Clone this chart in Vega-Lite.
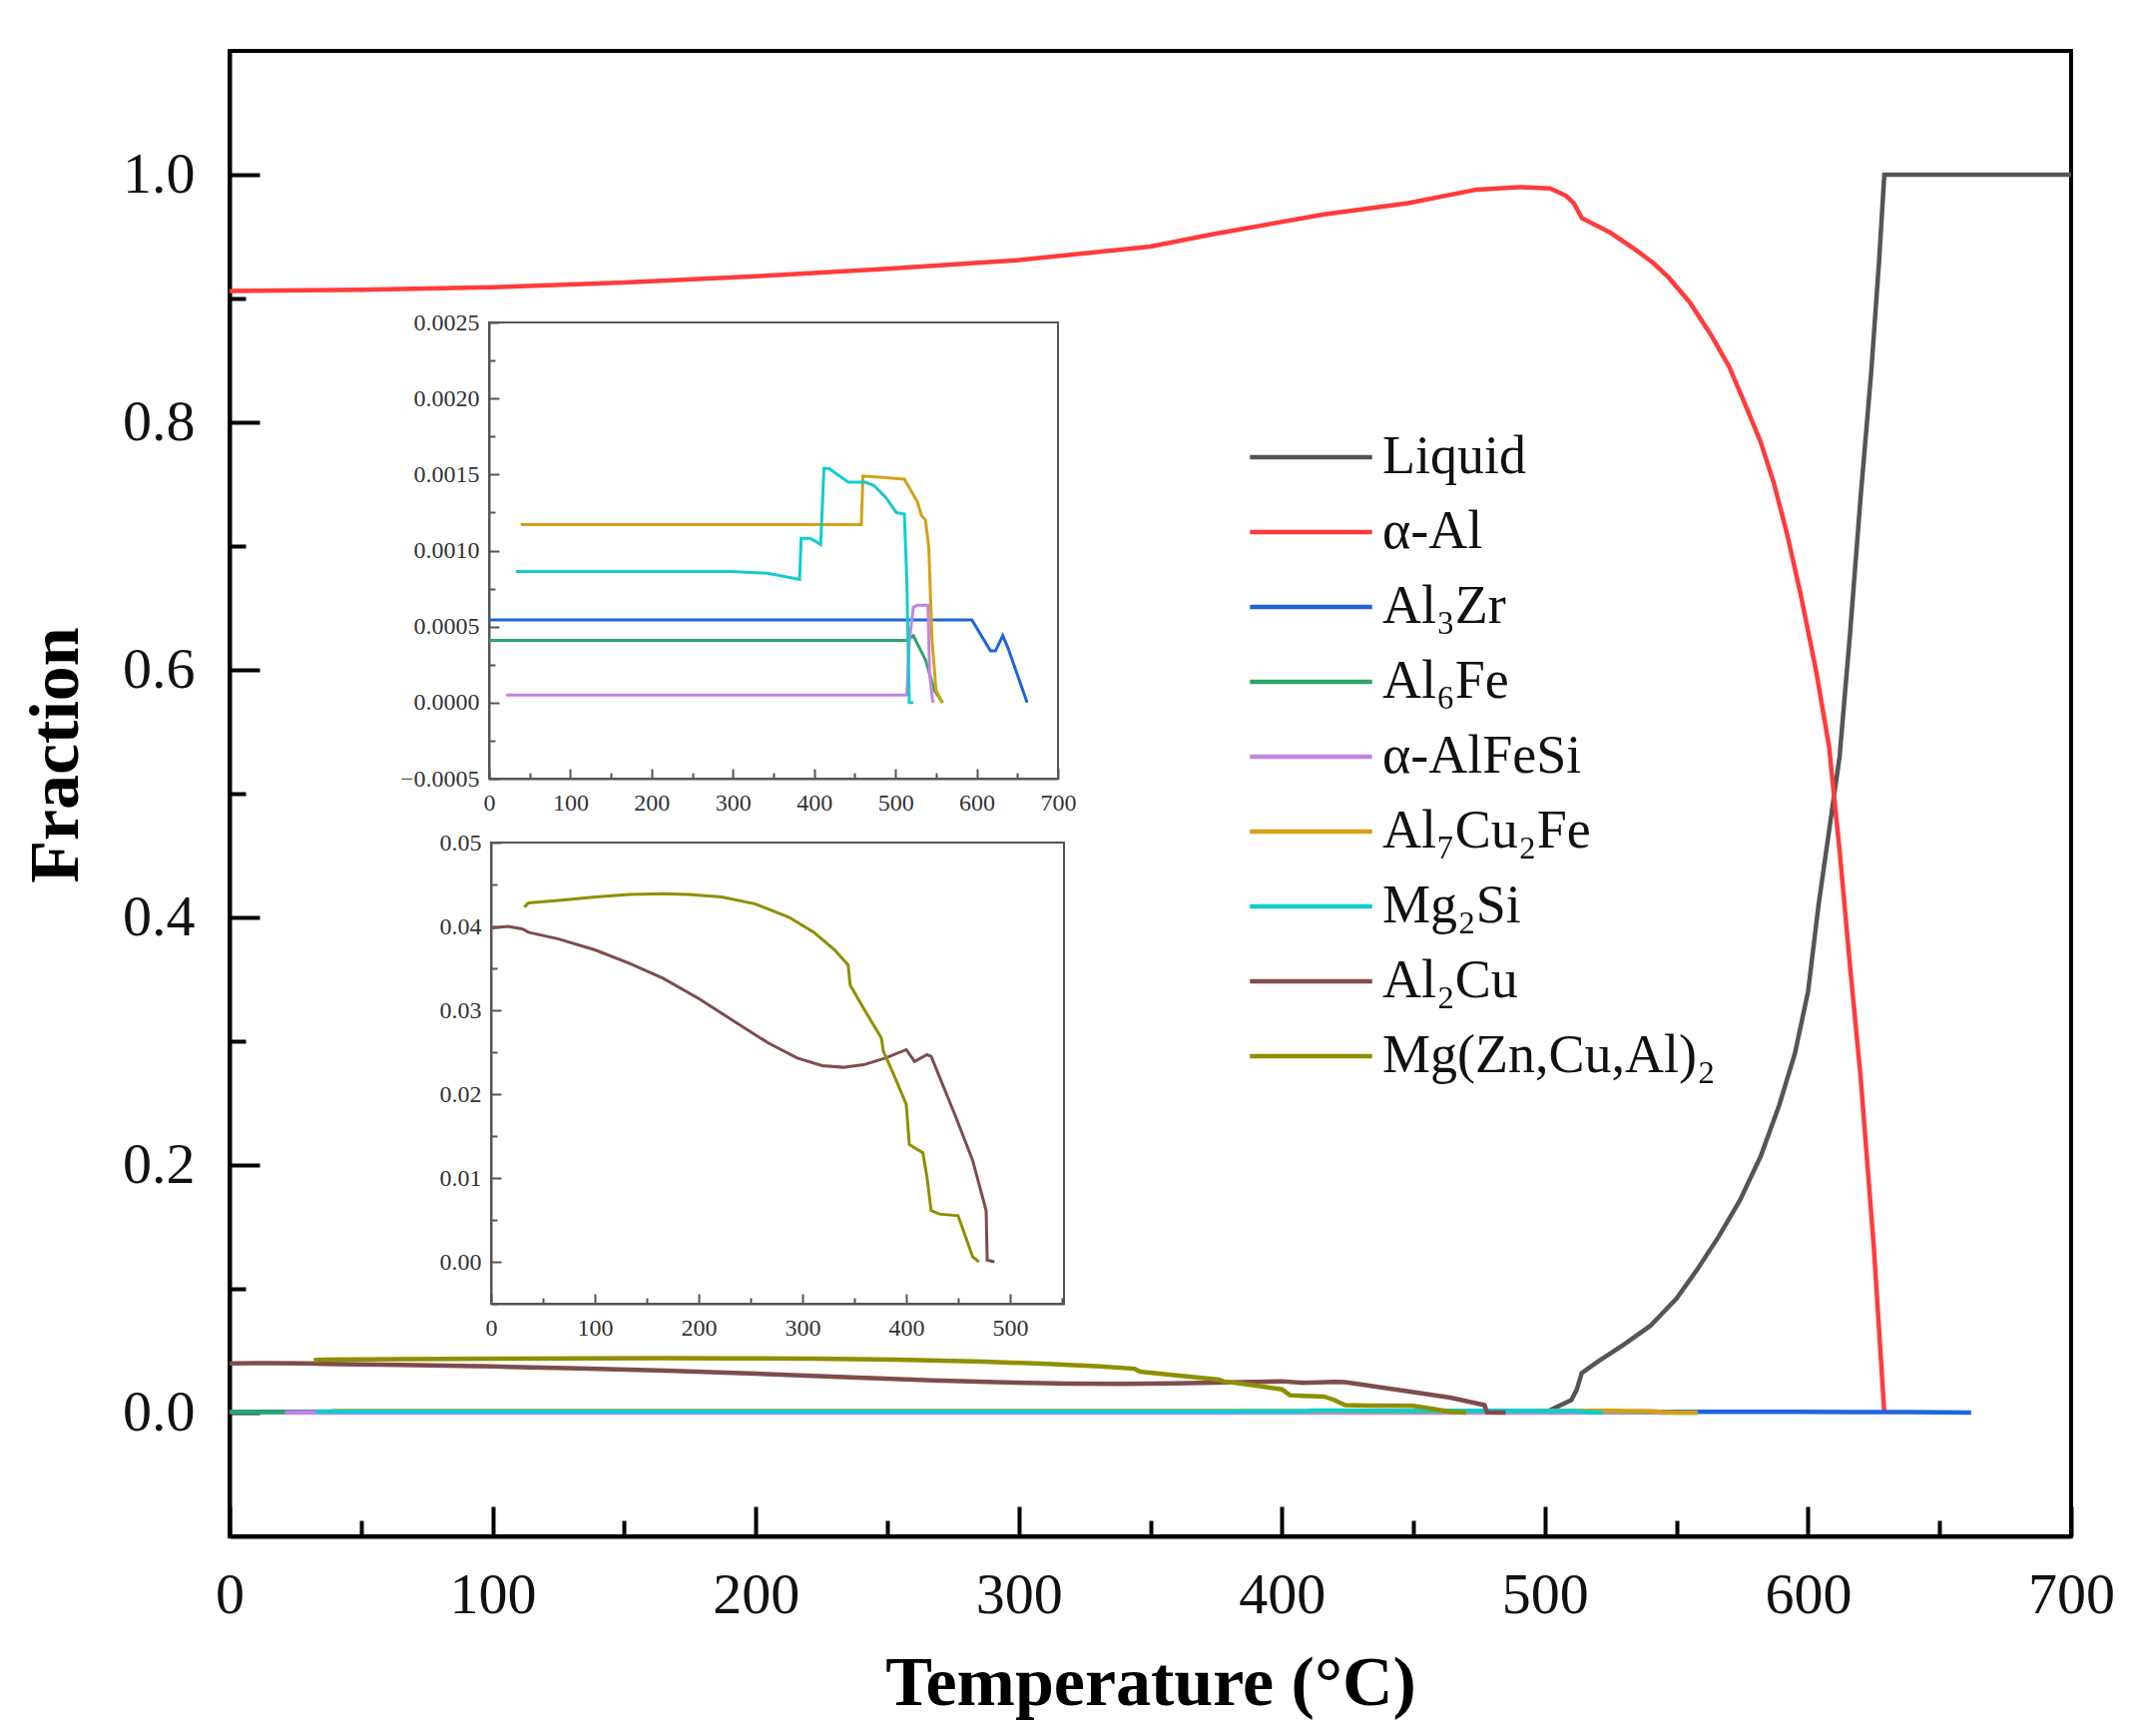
{
  "$schema": "https://vega.github.io/schema/vega-lite/v6.json",
  "width": 1845,
  "height": 1488,
  "autosize": "none",
  "padding": {"left": 230, "top": 51, "right": 60, "bottom": 200},
  "background": "white",
  "datasets": {
    "phases": [
      {"p": "Liquid", "T": 500, "f": 0},
      {"p": "Liquid", "T": 504, "f": 0.004},
      {"p": "Liquid", "T": 510, "f": 0.01},
      {"p": "Liquid", "T": 512, "f": 0.018},
      {"p": "Liquid", "T": 514, "f": 0.032},
      {"p": "Liquid", "T": 520, "f": 0.041},
      {"p": "Liquid", "T": 530, "f": 0.055},
      {"p": "Liquid", "T": 540, "f": 0.07},
      {"p": "Liquid", "T": 550, "f": 0.092},
      {"p": "Liquid", "T": 558, "f": 0.116},
      {"p": "Liquid", "T": 566, "f": 0.142},
      {"p": "Liquid", "T": 574, "f": 0.171},
      {"p": "Liquid", "T": 582, "f": 0.207},
      {"p": "Liquid", "T": 589, "f": 0.248},
      {"p": "Liquid", "T": 595, "f": 0.29},
      {"p": "Liquid", "T": 600, "f": 0.34},
      {"p": "Liquid", "T": 604, "f": 0.41},
      {"p": "Liquid", "T": 608, "f": 0.47},
      {"p": "Liquid", "T": 612, "f": 0.53},
      {"p": "Liquid", "T": 616, "f": 0.63},
      {"p": "Liquid", "T": 620, "f": 0.74},
      {"p": "Liquid", "T": 624, "f": 0.84},
      {"p": "Liquid", "T": 627, "f": 0.93},
      {"p": "Liquid", "T": 629, "f": 1.0},
      {"p": "Liquid", "T": 640, "f": 1.0},
      {"p": "Liquid", "T": 700, "f": 1.0},
      {"p": "α-Al", "T": 0, "f": 0.906},
      {"p": "α-Al", "T": 50, "f": 0.907},
      {"p": "α-Al", "T": 100, "f": 0.909},
      {"p": "α-Al", "T": 150, "f": 0.913},
      {"p": "α-Al", "T": 200, "f": 0.918},
      {"p": "α-Al", "T": 250, "f": 0.924},
      {"p": "α-Al", "T": 300, "f": 0.931},
      {"p": "α-Al", "T": 350, "f": 0.942},
      {"p": "α-Al", "T": 374, "f": 0.952},
      {"p": "α-Al", "T": 416, "f": 0.968},
      {"p": "α-Al", "T": 448, "f": 0.977},
      {"p": "α-Al", "T": 474, "f": 0.988},
      {"p": "α-Al", "T": 490, "f": 0.99},
      {"p": "α-Al", "T": 502, "f": 0.989},
      {"p": "α-Al", "T": 508, "f": 0.983},
      {"p": "α-Al", "T": 511, "f": 0.977},
      {"p": "α-Al", "T": 514, "f": 0.965},
      {"p": "α-Al", "T": 525, "f": 0.953},
      {"p": "α-Al", "T": 534, "f": 0.94},
      {"p": "α-Al", "T": 541, "f": 0.929},
      {"p": "α-Al", "T": 547, "f": 0.917},
      {"p": "α-Al", "T": 555, "f": 0.897},
      {"p": "α-Al", "T": 563, "f": 0.871},
      {"p": "α-Al", "T": 570, "f": 0.845},
      {"p": "α-Al", "T": 576, "f": 0.815},
      {"p": "α-Al", "T": 582, "f": 0.784},
      {"p": "α-Al", "T": 587, "f": 0.751},
      {"p": "α-Al", "T": 592, "f": 0.71},
      {"p": "α-Al", "T": 597, "f": 0.663},
      {"p": "α-Al", "T": 603, "f": 0.6},
      {"p": "α-Al", "T": 608, "f": 0.538},
      {"p": "α-Al", "T": 612, "f": 0.454},
      {"p": "α-Al", "T": 616, "f": 0.36},
      {"p": "α-Al", "T": 620, "f": 0.271},
      {"p": "α-Al", "T": 625, "f": 0.134},
      {"p": "α-Al", "T": 629, "f": 0.0},
      {"p": "Al₃Zr", "T": 0, "f": 0.000544},
      {"p": "Al₃Zr", "T": 594, "f": 0.000544},
      {"p": "Al₃Zr", "T": 617, "f": 0.00034},
      {"p": "Al₃Zr", "T": 623, "f": 0.00034},
      {"p": "Al₃Zr", "T": 632, "f": 0.00044},
      {"p": "Al₃Zr", "T": 638, "f": 0.000366},
      {"p": "Al₃Zr", "T": 662, "f": 0},
      {"p": "Al₆Fe", "T": 0, "f": 0.00041},
      {"p": "Al₆Fe", "T": 514, "f": 0.00041},
      {"p": "Al₆Fe", "T": 522, "f": 0.00044},
      {"p": "Al₆Fe", "T": 537, "f": 0.00028},
      {"p": "Al₆Fe", "T": 548, "f": 0.00008},
      {"p": "Al₆Fe", "T": 558, "f": 0},
      {"p": "α-AlFeSi", "T": 21, "f": 0.00005},
      {"p": "α-AlFeSi", "T": 514, "f": 0.00005},
      {"p": "α-AlFeSi", "T": 517, "f": 0.0004},
      {"p": "α-AlFeSi", "T": 522, "f": 0.000627},
      {"p": "α-AlFeSi", "T": 527, "f": 0.00064},
      {"p": "α-AlFeSi", "T": 540, "f": 0.00064},
      {"p": "α-AlFeSi", "T": 542, "f": 0.00019},
      {"p": "α-AlFeSi", "T": 546, "f": 0},
      {"p": "Al₇Cu₂Fe", "T": 39, "f": 0.00117},
      {"p": "Al₇Cu₂Fe", "T": 458, "f": 0.00117},
      {"p": "Al₇Cu₂Fe", "T": 460, "f": 0.00149},
      {"p": "Al₇Cu₂Fe", "T": 511, "f": 0.00147},
      {"p": "Al₇Cu₂Fe", "T": 527, "f": 0.00132},
      {"p": "Al₇Cu₂Fe", "T": 532, "f": 0.00123},
      {"p": "Al₇Cu₂Fe", "T": 537, "f": 0.0012},
      {"p": "Al₇Cu₂Fe", "T": 541, "f": 0.00102},
      {"p": "Al₇Cu₂Fe", "T": 545, "f": 0.00041},
      {"p": "Al₇Cu₂Fe", "T": 550, "f": 0.00008},
      {"p": "Al₇Cu₂Fe", "T": 558, "f": 0},
      {"p": "Mg₂Si", "T": 33, "f": 0.000862},
      {"p": "Mg₂Si", "T": 297, "f": 0.000862},
      {"p": "Mg₂Si", "T": 343, "f": 0.00085},
      {"p": "Mg₂Si", "T": 382, "f": 0.00081},
      {"p": "Mg₂Si", "T": 384, "f": 0.00108},
      {"p": "Mg₂Si", "T": 395, "f": 0.00108},
      {"p": "Mg₂Si", "T": 408, "f": 0.00104},
      {"p": "Mg₂Si", "T": 412, "f": 0.00154},
      {"p": "Mg₂Si", "T": 418, "f": 0.00154},
      {"p": "Mg₂Si", "T": 442, "f": 0.00145},
      {"p": "Mg₂Si", "T": 462, "f": 0.00145},
      {"p": "Mg₂Si", "T": 473, "f": 0.00143},
      {"p": "Mg₂Si", "T": 488, "f": 0.00135},
      {"p": "Mg₂Si", "T": 501, "f": 0.00125},
      {"p": "Mg₂Si", "T": 511, "f": 0.00124},
      {"p": "Mg₂Si", "T": 514, "f": 0.0008},
      {"p": "Mg₂Si", "T": 517, "f": 0},
      {"p": "Mg₂Si", "T": 522, "f": 0},
      {"p": "Al₂Cu", "T": 0, "f": 0.0398},
      {"p": "Al₂Cu", "T": 16, "f": 0.04},
      {"p": "Al₂Cu", "T": 30, "f": 0.0397},
      {"p": "Al₂Cu", "T": 36, "f": 0.0393},
      {"p": "Al₂Cu", "T": 65, "f": 0.0385},
      {"p": "Al₂Cu", "T": 100, "f": 0.0372},
      {"p": "Al₂Cu", "T": 133, "f": 0.0356},
      {"p": "Al₂Cu", "T": 166, "f": 0.0338},
      {"p": "Al₂Cu", "T": 200, "f": 0.0314},
      {"p": "Al₂Cu", "T": 234, "f": 0.0287},
      {"p": "Al₂Cu", "T": 267, "f": 0.0261},
      {"p": "Al₂Cu", "T": 295, "f": 0.0243},
      {"p": "Al₂Cu", "T": 319, "f": 0.0234},
      {"p": "Al₂Cu", "T": 339, "f": 0.0232},
      {"p": "Al₂Cu", "T": 359, "f": 0.0235},
      {"p": "Al₂Cu", "T": 380, "f": 0.0243},
      {"p": "Al₂Cu", "T": 400, "f": 0.0253},
      {"p": "Al₂Cu", "T": 408, "f": 0.0239},
      {"p": "Al₂Cu", "T": 420, "f": 0.0247},
      {"p": "Al₂Cu", "T": 424, "f": 0.0245},
      {"p": "Al₂Cu", "T": 448, "f": 0.0172},
      {"p": "Al₂Cu", "T": 464, "f": 0.0121},
      {"p": "Al₂Cu", "T": 477, "f": 0.0061},
      {"p": "Al₂Cu", "T": 478, "f": 0.0002},
      {"p": "Al₂Cu", "T": 485, "f": 0},
      {"p": "Mg(Zn,Cu,Al)₂", "T": 32, "f": 0.0423},
      {"p": "Mg(Zn,Cu,Al)₂", "T": 36, "f": 0.0428},
      {"p": "Mg(Zn,Cu,Al)₂", "T": 65, "f": 0.0431},
      {"p": "Mg(Zn,Cu,Al)₂", "T": 101, "f": 0.0435},
      {"p": "Mg(Zn,Cu,Al)₂", "T": 133, "f": 0.0438},
      {"p": "Mg(Zn,Cu,Al)₂", "T": 166, "f": 0.0439},
      {"p": "Mg(Zn,Cu,Al)₂", "T": 190, "f": 0.0438},
      {"p": "Mg(Zn,Cu,Al)₂", "T": 222, "f": 0.0435},
      {"p": "Mg(Zn,Cu,Al)₂", "T": 254, "f": 0.0427},
      {"p": "Mg(Zn,Cu,Al)₂", "T": 287, "f": 0.0411},
      {"p": "Mg(Zn,Cu,Al)₂", "T": 311, "f": 0.0393},
      {"p": "Mg(Zn,Cu,Al)₂", "T": 331, "f": 0.0372},
      {"p": "Mg(Zn,Cu,Al)₂", "T": 344, "f": 0.0354},
      {"p": "Mg(Zn,Cu,Al)₂", "T": 346, "f": 0.033},
      {"p": "Mg(Zn,Cu,Al)₂", "T": 359, "f": 0.0302},
      {"p": "Mg(Zn,Cu,Al)₂", "T": 376, "f": 0.0267},
      {"p": "Mg(Zn,Cu,Al)₂", "T": 378, "f": 0.0251},
      {"p": "Mg(Zn,Cu,Al)₂", "T": 388, "f": 0.0223},
      {"p": "Mg(Zn,Cu,Al)₂", "T": 400, "f": 0.0188},
      {"p": "Mg(Zn,Cu,Al)₂", "T": 403, "f": 0.014},
      {"p": "Mg(Zn,Cu,Al)₂", "T": 408, "f": 0.0136},
      {"p": "Mg(Zn,Cu,Al)₂", "T": 416, "f": 0.013},
      {"p": "Mg(Zn,Cu,Al)₂", "T": 420, "f": 0.0101},
      {"p": "Mg(Zn,Cu,Al)₂", "T": 424, "f": 0.0061},
      {"p": "Mg(Zn,Cu,Al)₂", "T": 432, "f": 0.0057},
      {"p": "Mg(Zn,Cu,Al)₂", "T": 450, "f": 0.0055},
      {"p": "Mg(Zn,Cu,Al)₂", "T": 456, "f": 0.0034},
      {"p": "Mg(Zn,Cu,Al)₂", "T": 464, "f": 0.0006},
      {"p": "Mg(Zn,Cu,Al)₂", "T": 470, "f": 0}
    ]
  },
  "layer": [
    {
      "data": {"name": "phases"},
      "mark": {"type": "line", "strokeWidth": 4.5, "clip": true},
      "encoding": {
        "x": {
          "field": "T", "type": "quantitative",
          "scale": {"domain": [0, 700], "nice": false, "zero": false},
          "axis": {
            "orient": "bottom",
            "title": "Temperature (°C)",
            "values": [0, 50, 100, 150, 200, 250, 300, 350, 400, 450, 500, 550, 600, 650, 700],
            "labelExpr": "datum.value % 100 === 0 ? datum.label : ''",
            "tickSize": {"condition": {"test": "datum.value % 100 === 0", "value": -30}, "value": -16},
            "labelPadding": 60,
            "titlePadding": 11
          }
        },
        "y": {
          "field": "f", "type": "quantitative",
          "scale": {"domain": [-0.1, 1.1], "nice": false, "zero": false},
          "axis": {
            "orient": "left",
            "title": "Fraction",
            "values": [0, 0.1, 0.2, 0.3, 0.4, 0.5, 0.6, 0.7, 0.8, 0.9, 1.0],
            "format": ".1f",
            "labelExpr": "round(datum.value * 10) % 2 === 0 ? datum.label : ''",
            "tickSize": {"condition": {"test": "round(datum.value * 10) % 2 === 0", "value": -30}, "value": -16},
            "labelPadding": 65,
            "titlePadding": 30,
            "titleY": 705
          }
        },
        "color": {
          "field": "p", "type": "nominal",
          "scale": {
            "domain": ["Liquid", "α-Al", "Al₃Zr", "Al₆Fe", "α-AlFeSi", "Al₇Cu₂Fe", "Mg₂Si", "Al₂Cu", "Mg(Zn,Cu,Al)₂"],
            "range": ["#555555", "#ff3b3b", "#1f64dc", "#2ca56a", "#c084e4", "#d4a017", "#12cccc", "#7f4c4c", "#8f8f00"]
          },
          "legend": {
            "title": null,
            "orient": "none",
            "legendX": 1020,
            "legendY": 380,
            "symbolType": "stroke",
            "symbolSize": 15000,
            "symbolStrokeWidth": 4.5,
            "labelFontSize": 54,
            "labelOffset": 8,
            "labelLimit": 0,
            "clipHeight": 54,
            "rowPadding": 21,
            "labelColor": "#111111"
          }
        }
      }
    },
    {
      "layer": [
        {
          "data": {"values": [{}]},
          "mark": {"type": "rect", "fill": null, "stroke": "#555555", "strokeWidth": 2},
          "encoding": {
            "x": {"datum": 0, "type": "quantitative", "scale": {"domain": [0, 700], "range": [260, 830], "nice": false, "zero": false}},
            "x2": {"datum": 700},
            "y": {"datum": -0.0005, "type": "quantitative", "scale": {"domain": [-0.0005, 0.0025], "range": [729, 272], "nice": false, "zero": false}},
            "y2": {"datum": 0.0025}
          }
        },
        {
          "data": {"name": "phases"},
          "transform": [{"filter": {"field": "p", "oneOf": ["Al₃Zr", "Al₆Fe", "α-AlFeSi", "Al₇Cu₂Fe", "Mg₂Si"]}}],
          "mark": {"type": "line", "strokeWidth": 3},
          "encoding": {
            "x": {
              "field": "T", "type": "quantitative",
              "scale": {"domain": [0, 700], "range": [260, 830], "nice": false, "zero": false},
              "axis": {
                "orient": "bottom", "offset": -759, "title": null,
                "values": [0, 50, 100, 150, 200, 250, 300, 350, 400, 450, 500, 550, 600, 650, 700],
                "labelExpr": "datum.value % 100 === 0 ? datum.label : ''",
                "tickSize": {"condition": {"test": "datum.value % 100 === 0", "value": -10}, "value": -6},
                "labelPadding": 22,
                "labelFontSize": 24, "domainColor": "#555555", "domainWidth": 2,
                "tickColor": "#555555", "tickWidth": 2, "labelColor": "#333333"
              }
            },
            "y": {
              "field": "f", "type": "quantitative",
              "scale": {"domain": [-0.0005, 0.0025], "range": [729, 272], "nice": false, "zero": false},
              "axis": {
                "orient": "left", "offset": -260, "title": null,
                "values": [-0.0005, -0.00025, 0, 0.00025, 0.0005, 0.00075, 0.001, 0.00125, 0.0015, 0.00175, 0.002, 0.00225, 0.0025],
                "format": ".4f",
                "labelExpr": "round(datum.value / 0.00025) % 2 === 0 ? datum.label : ''",
                "tickSize": {"condition": {"test": "round(datum.value / 0.00025) % 2 === 0", "value": -10}, "value": -6},
                "labelPadding": 20,
                "labelFontSize": 24, "domainColor": "#555555", "domainWidth": 2,
                "tickColor": "#555555", "tickWidth": 2, "labelColor": "#333333"
              }
            },
            "color": {"field": "p", "type": "nominal", "legend": null}
          }
        }
      ]
    },
    {
      "layer": [
        {
          "data": {"values": [{}]},
          "mark": {"type": "rect", "fill": null, "stroke": "#555555", "strokeWidth": 2},
          "encoding": {
            "x": {"datum": 0, "type": "quantitative", "scale": {"domain": [0, 552], "range": [262, 836], "nice": false, "zero": false}},
            "x2": {"datum": 552},
            "y": {"datum": -0.005, "type": "quantitative", "scale": {"domain": [-0.005, 0.05], "range": [1255, 793], "nice": false, "zero": false}},
            "y2": {"datum": 0.05}
          }
        },
        {
          "data": {"name": "phases"},
          "transform": [{"filter": {"field": "p", "oneOf": ["Al₂Cu", "Mg(Zn,Cu,Al)₂"]}}],
          "mark": {"type": "line", "strokeWidth": 3},
          "encoding": {
            "x": {
              "field": "T", "type": "quantitative",
              "scale": {"domain": [0, 552], "range": [262, 836], "nice": false, "zero": false},
              "axis": {
                "orient": "bottom", "offset": -233, "title": null,
                "values": [0, 50, 100, 150, 200, 250, 300, 350, 400, 450, 500, 550],
                "labelExpr": "datum.value % 100 === 0 ? datum.label : ''",
                "tickSize": {"condition": {"test": "datum.value % 100 === 0", "value": -10}, "value": -6},
                "labelPadding": 22,
                "labelFontSize": 24, "domainColor": "#555555", "domainWidth": 2,
                "tickColor": "#555555", "tickWidth": 2, "labelColor": "#333333"
              }
            },
            "y": {
              "field": "f", "type": "quantitative",
              "scale": {"domain": [-0.005, 0.05], "range": [1255, 793], "nice": false, "zero": false},
              "axis": {
                "orient": "left", "offset": -262, "title": null,
                "values": [-0.005, 0, 0.005, 0.01, 0.015, 0.02, 0.025, 0.03, 0.035, 0.04, 0.045, 0.05],
                "format": ".2f",
                "labelExpr": "round(datum.value / 0.005) % 2 === 0 ? datum.label : ''",
                "tickSize": {"condition": {"test": "round(datum.value / 0.005) % 2 === 0", "value": -10}, "value": -6},
                "labelPadding": 20,
                "labelFontSize": 24, "domainColor": "#555555", "domainWidth": 2,
                "tickColor": "#555555", "tickWidth": 2, "labelColor": "#333333"
              }
            },
            "color": {"field": "p", "type": "nominal", "legend": null}
          }
        }
      ]
    }
  ],
  "resolve": {
    "scale": {"x": "independent", "y": "independent"},
    "axis": {"x": "independent", "y": "independent"}
  },
  "config": {
    "font": "Liberation Serif",
    "view": {"stroke": "#000000", "strokeWidth": 4},
    "axis": {
      "grid": false,
      "domainColor": "#000000",
      "domainWidth": 4,
      "tickColor": "#000000",
      "tickWidth": 4,
      "labelFont": "Liberation Serif",
      "labelFontSize": 58,
      "labelColor": "#111111",
      "labelFlush": false,
      "labelOverlap": false,
      "labelBound": false,
      "titleFont": "Liberation Serif",
      "titleFontSize": 70,
      "titleFontWeight": "bold",
      "titleColor": "#000000"
    },
    "legend": {
      "labelFont": "Liberation Serif",
      "padding": 0
    }
  }
}
